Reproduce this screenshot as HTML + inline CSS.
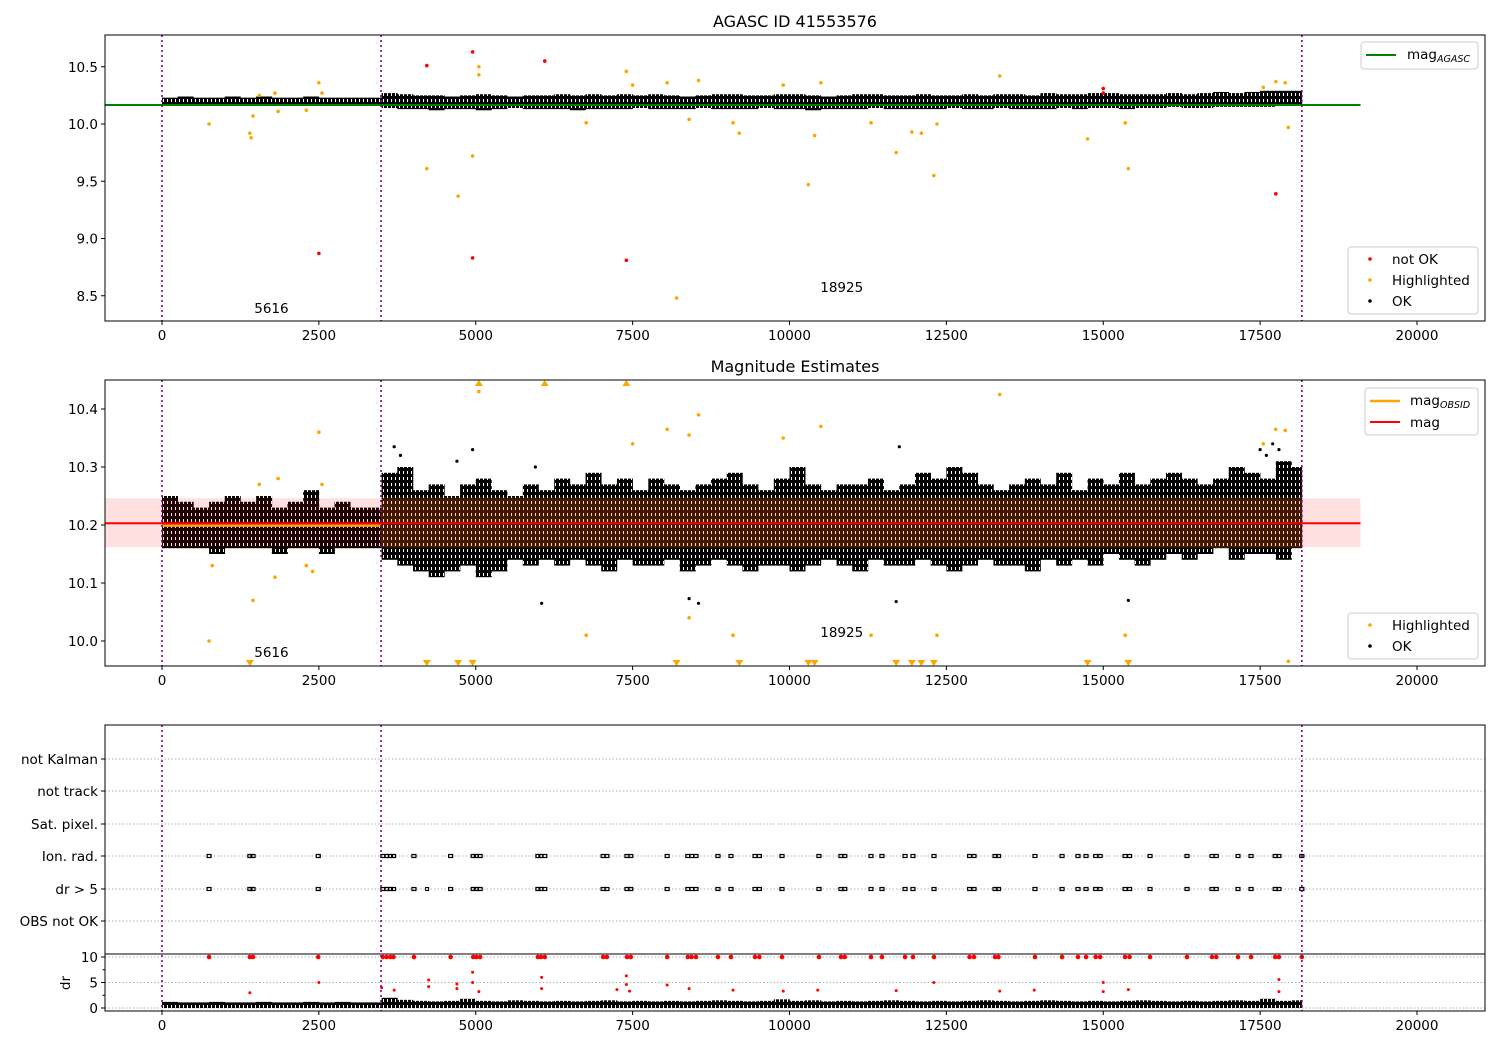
<!DOCTYPE html>
<html><head><meta charset="utf-8">
<style>
html,body{margin:0;padding:0;background:#fff;}
svg{display:block;font-family:"DejaVu Sans","Liberation Sans",sans-serif;}
</style></head>
<body>
<svg id="chart" width="1500" height="1050" viewBox="0 0 1500 1050" xmlns="http://www.w3.org/2000/svg">
<defs>
<pattern id="stripes" patternUnits="userSpaceOnUse" width="4" height="6">
<rect x="0" y="0" width="3" height="6" fill="#000"/>
<rect x="3" y="0" width="1" height="3" fill="#000"/>
</pattern>
</defs>
</svg>
<script>
// ---------- data ----------
const binWidth = 250;
const xTicks = [0, 2500, 5000, 7500, 10000, 12500, 15000, 17500, 20000];
const obsLines = [0, 3490, 18165];
const obsLabels = ["5616", "18925"];
const obsLabelT = [1470, 10490];

// panel 1 (AGASC) dense band per time bin
const hi1 = [10.23,10.24,10.23,10.23,10.24,10.23,10.24,10.23,10.23,10.24,10.23,10.23,10.23,10.23,
 10.27,10.26,10.25,10.25,10.24,10.25,10.26,10.25,10.24,10.25,10.25,10.26,10.25,10.26,10.25,10.26,10.25,10.26,10.25,10.24,10.25,10.26,10.26,10.25,10.25,10.26,10.26,10.25,10.24,10.25,10.26,10.26,10.25,10.25,10.26,10.25,10.25,10.26,10.25,10.26,10.26,10.25,10.27,10.26,10.26,10.27,10.27,10.26,10.26,10.26,10.27,10.26,10.27,10.28,10.27,10.28,10.29,10.29,10.29];
const lo1 = [10.16,10.16,10.16,10.16,10.16,10.16,10.16,10.16,10.16,10.16,10.16,10.16,10.16,10.16,
 10.14,10.13,10.13,10.12,10.13,10.13,10.12,10.13,10.14,10.13,10.13,10.13,10.12,10.13,10.13,10.13,10.14,10.13,10.13,10.13,10.14,10.13,10.13,10.13,10.14,10.13,10.13,10.12,10.13,10.13,10.13,10.14,10.13,10.13,10.13,10.13,10.14,10.13,10.13,10.14,10.13,10.13,10.13,10.14,10.13,10.14,10.14,10.13,10.14,10.14,10.15,10.14,10.14,10.15,10.15,10.15,10.15,10.16,10.16];
const magAgasc = 10.166;
const hl1T = [750,1400,1420,1450,1550,1800,1850,2300,2500,2550,4220,4720,4950,5050,5050,6100,6760,7400,7500,8050,8200,8400,8550,9100,9200,9900,10300,10400,10500,11300,11700,11950,12100,12300,12350,13350,14750,15350,15400,17550,17750,17900,17950];
const hl1V = [10.0,9.92,9.88,10.07,10.25,10.27,10.11,10.12,10.36,10.27,9.61,9.37,9.72,10.50,10.43,10.55,10.01,10.46,10.34,10.36,8.48,10.04,10.38,10.01,9.92,10.34,9.47,9.90,10.36,10.01,9.75,9.93,9.92,9.55,10.00,10.42,9.87,10.01,9.61,10.32,10.37,10.36,9.97];
const bad1T = [4220,4950,6100,2500,4950,7400,17750,15000,15000];
const bad1V = [10.51,10.63,10.55,8.87,8.83,8.81,9.39,10.31,10.27];

// panel 2 (magnitude estimates)
const hi2 = [10.25,10.24,10.23,10.24,10.25,10.24,10.25,10.23,10.24,10.26,10.23,10.24,10.23,10.23,
 10.29,10.30,10.26,10.27,10.25,10.27,10.28,10.26,10.25,10.27,10.26,10.28,10.27,10.29,10.27,10.28,10.26,10.28,10.27,10.26,10.27,10.28,10.29,10.27,10.26,10.28,10.30,10.27,10.26,10.27,10.27,10.28,10.26,10.27,10.29,10.28,10.30,10.29,10.27,10.26,10.27,10.28,10.27,10.29,10.26,10.28,10.27,10.29,10.27,10.28,10.29,10.28,10.27,10.28,10.30,10.29,10.28,10.31,10.30];
const lo2 = [10.16,10.16,10.16,10.15,10.16,10.16,10.16,10.15,10.16,10.16,10.15,10.16,10.16,10.16,
 10.14,10.13,10.12,10.11,10.12,10.13,10.11,10.12,10.14,10.13,10.14,10.13,10.14,10.13,10.12,10.14,10.13,10.13,10.14,10.12,10.13,10.14,10.13,10.12,10.13,10.13,10.12,10.13,10.14,10.13,10.12,10.14,10.13,10.13,10.14,10.13,10.12,10.13,10.14,10.13,10.13,10.12,10.14,10.13,10.14,10.13,10.15,10.14,10.13,10.14,10.15,10.14,10.15,10.16,10.14,10.15,10.15,10.14,10.16];
const okOutT = [3700,3800,4950,6050,8400,8550,11700,11750,15400,4700,5950,17500,17600,17700,17800];
const okOutV = [10.335,10.32,10.33,10.065,10.073,10.065,10.068,10.335,10.07,10.31,10.30,10.33,10.32,10.34,10.33];
const magMean = 10.203;
const magLo = 10.162, magHi = 10.246;
const hl2T = [750,800,1450,1550,1800,1850,2300,2400,2500,2550,5050,6760,7500,8050,8400,8400,8550,9100,9900,10500,11300,12350,13350,15350,17550,17750,17900,17950];
const hl2V = [10.0,10.13,10.07,10.27,10.11,10.28,10.13,10.12,10.36,10.27,10.43,10.01,10.34,10.365,10.04,10.355,10.39,10.01,10.35,10.37,10.01,10.01,10.425,10.01,10.34,10.365,10.363,9.965];
const downT = [1400,4220,4720,4950,8200,9200,10300,10400,11700,11950,12100,12300,14750,15400];
const upT = [5050,6100,7400];

// panel 3 flags
const flagCats = ["not Kalman","not track","Sat. pixel.","Ion. rad.","dr > 5","OBS not OK"];
const flagT = [750,1400,1450,2490,3520,3580,3640,3690,4015,4600,4960,5010,5070,5990,6040,6100,7030,7090,7410,7470,8050,8380,8440,8510,8860,9068,9450,9520,9880,10470,10820,10880,11299,11474,11841,11968,12303,12870,12940,13275,13330,13912,14343,14598,14725,14880,14950,15347,15420,15745,16335,16733,16800,17147,17355,17740,17800,18165];
const drHi = [1.2,1.1,1.1,1.2,1.1,1.1,1.2,1.1,1.1,1.2,1.1,1.2,1.1,1.1,
 2.0,1.6,1.4,1.3,1.4,1.8,1.4,1.3,1.5,1.4,1.3,1.4,1.3,1.4,1.5,1.3,1.4,1.3,1.4,1.3,1.4,1.5,1.4,1.3,1.4,1.7,1.4,1.5,1.3,1.4,1.3,1.4,1.5,1.4,1.3,1.4,1.3,1.4,1.5,1.4,1.3,1.4,1.5,1.4,1.3,1.4,1.3,1.4,1.5,1.4,1.3,1.4,1.3,1.4,1.5,1.4,1.8,1.4,1.5];
const drRedT = [1400,2500,3500,3700,4250,4250,4700,4700,4950,4950,5050,6050,6050,7250,7400,7400,7450,8050,8400,9100,9900,10450,11700,12300,13350,13900,15000,15000,15400,17800,17800];
const drRedV = [3,5,4,3.5,5.5,4.2,4.7,3.8,7,5,3.2,6,3.8,3.6,6.3,4.6,3.3,4.5,3.8,3.5,3.3,3.5,3.4,5,3.3,3.5,5,3.2,3.6,5.6,3.2];

// ---------- drawing ----------
const svg = document.getElementById('chart');
const NS = 'http://www.w3.org/2000/svg';
function mk(tag, attrs, parent){ const e=document.createElementNS(NS,tag); for(const k in attrs) e.setAttribute(k,attrs[k]); (parent||svg).appendChild(e); return e; }
const L=105, R=1485;
const X = t => 162 + t*0.06275;
const Y1 = v => 124 - (v-10)*114.5;
const Y2 = v => 641 - (v-10)*580;
const Ydr = v => 1008 - v*5.1;
const catY = [759,791,824,856,889,921];

function xAxis(bottom, g){
  xTicks.forEach(t=>{
    mk('line',{x1:X(t),x2:X(t),y1:bottom,y2:bottom+4,stroke:'#000'},g);
    const tx=mk('text',{x:X(t),y:bottom+19,'text-anchor':'middle','font-size':'13.5'},g); tx.textContent=t;
  });
}
function yTick(y,label,g){
  mk('line',{x1:L-4,x2:L,y1:y,y2:y,stroke:'#000'},g);
  if(label!==null){const t=mk('text',{x:L-7,y:y+5,'text-anchor':'end','font-size':'13.5'},g); t.textContent=label;}
}
function vlines(top,bot,g){
  obsLines.forEach(t=>mk('line',{x1:X(t),x2:X(t),y1:top,y2:bot,stroke:'#800080','stroke-width':1.6,'stroke-dasharray':'2,3'},g));
}
function band(hi,lo,Y,g,col){
  hi.forEach((h,i)=>{
    const t0=i*binWidth, t1=Math.min((i+1)*binWidth,18165);
    if(t1<=t0) return;
    const r=mk('rect',{x:X(t0),y:Y(h),width:X(t1)-X(t0)+0.3,height:Y(lo[i])-Y(h),fill:col},g);
    
    
  });
}
function dots(T,V,Y,col,r,g,name){
  T.forEach((t,i)=>{
    const c=mk('circle',{cx:X(t),cy:Y(V[i]),r:r,fill:col},g);
    
    
  });
}
function legendBox(x,y,w,h,g,name){
  mk('rect',{x:x,y:y,width:w,height:h,rx:3,fill:'#fff','fill-opacity':0.85,stroke:'#ccc'},g);
   
}
function label(x,y,txt,g,size){const t=mk('text',{x:x,y:y,'font-size':size||'13.5'},g); t.textContent=txt; return t;}
function subLabel(x,y,main,sub,g){
  const t=mk('text',{x:x,y:y,'font-size':'13.5'},g);
  const a=mk('tspan',{},t); a.textContent=main;
  const b=mk('tspan',{dy:3,'font-size':'9.5','font-style':'italic'},t); b.textContent=sub;
  return t;
}

// ===== Panel 1 =====
const g1=mk('g',{});
label(795,27,'AGASC ID 41553576',g1,'16').setAttribute('text-anchor','middle');
const clip1=mk('clipPath',{id:'c1'}); mk('rect',{x:L,y:35,width:R-L,height:286},clip1);
const p1=mk('g',{'clip-path':'url(#c1)'},g1);
band(hi1,lo1,Y1,p1,'url(#stripes)');
dots(hl1T,hl1V,Y1,'orange',1.8,p1,'highlighted-point');
dots(bad1T,bad1V,Y1,'red',1.8,p1,'not-ok-point');
mk('line',{x1:L,x2:X(19100),y1:Y1(magAgasc),y2:Y1(magAgasc),stroke:'green','stroke-width':2,},p1);
vlines(35,321,p1);
obsLabels.forEach((s,i)=>label(X(obsLabelT[i]),i?292:313,s,p1,'13.5'));
mk('rect',{x:L,y:35,width:R-L,height:286,fill:'none',stroke:'#000'},g1);
[10.5,10.0,9.5,9.0,8.5].forEach(v=>yTick(Y1(v),v.toFixed(1),g1));
xAxis(321,g1);
const lg1=mk('g',{},g1); legendBox(1361,42,117,27,lg1,'legend-mag-agasc');
mk('line',{x1:1366,x2:1396,y1:55,y2:55,stroke:'green','stroke-width':2},lg1);
subLabel(1407,59,'mag','AGASC',lg1);
const lg2=mk('g',{},g1); legendBox(1348,247,130,67,lg2,'legend-points');
[['red','not OK',259],['orange','Highlighted',280],['#000','OK',301]].forEach(a=>{mk('circle',{cx:1370,cy:a[2],r:1.8,fill:a[0]},lg2); label(1392,a[2]+5,a[1],lg2);});

// ===== Panel 2 =====
const g2=mk('g',{});
label(795,372,'Magnitude Estimates',g2,'16').setAttribute('text-anchor','middle');
const clip2=mk('clipPath',{id:'c2'}); mk('rect',{x:L,y:380,width:R-L,height:286},clip2);
const p2=mk('g',{'clip-path':'url(#c2)'},g2);
band(hi2,lo2,Y2,p2,'url(#stripes)');
dots(okOutT,okOutV,Y2,'#000',1.6,p2,'ok-outlier');
mk('rect',{x:L,y:Y2(magHi),width:X(19100)-L,height:Y2(magLo)-Y2(magHi),fill:'red','fill-opacity':0.12,},p2);
mk('rect',{x:X(3490),y:Y2(magHi+0.002),width:X(18165)-X(3490),height:Y2(magLo-0.002)-Y2(magHi+0.002),fill:'orange','fill-opacity':0.15,},p2);
mk('line',{x1:X(0),x2:X(3490),y1:Y2(10.199),y2:Y2(10.199),stroke:'orange','stroke-width':2.5,},p2);
mk('line',{x1:L,x2:X(19100),y1:Y2(magMean),y2:Y2(magMean),stroke:'red','stroke-width':2,},p2);
dots(hl2T,hl2V,Y2,'orange',1.8,p2,'highlighted-point');
downT.forEach(t=>{const p=mk('path',{d:`M${X(t)-4},660 L${X(t)+4},660 L${X(t)},666 Z`,fill:'orange'},p2);  });
upT.forEach(t=>{const p=mk('path',{d:`M${X(t)-4},386 L${X(t)+4},386 L${X(t)},380 Z`,fill:'orange'},p2);  });
vlines(380,666,p2);
obsLabels.forEach((s,i)=>label(X(obsLabelT[i]),i?637:657,s,p2,'13.5'));
mk('rect',{x:L,y:380,width:R-L,height:286,fill:'none',stroke:'#000'},g2);
[10.4,10.3,10.2,10.1,10.0].forEach(v=>yTick(Y2(v),v.toFixed(1),g2));
xAxis(666,g2);
const lg3=mk('g',{},g2); legendBox(1365,388,113,47,lg3,'legend-mag-lines');
mk('line',{x1:1370,x2:1400,y1:401,y2:401,stroke:'orange','stroke-width':2.5},lg3);
subLabel(1410,405,'mag','OBSID',lg3);
mk('line',{x1:1370,x2:1400,y1:422,y2:422,stroke:'red','stroke-width':2},lg3);
label(1410,427,'mag',lg3);
const lg4=mk('g',{},g2); legendBox(1348,613,130,46,lg4,'legend-points-2');
[['orange','Highlighted',625],['#000','OK',646]].forEach(a=>{mk('circle',{cx:1370,cy:a[2],r:1.8,fill:a[0]},lg4); label(1392,a[2]+5,a[1],lg4);});

// ===== Panel 3 =====
const g3=mk('g',{});
catY.forEach((y,i)=>{
  mk('line',{x1:L,x2:R,y1:y,y2:y,stroke:'#b0b0b0','stroke-dasharray':'1.5,2'},g3);
  yTick(y,flagCats[i],g3);
});
[3,4].forEach(ci=>flagT.forEach(t=>{
  const r=mk('rect',{x:X(t)-2,y:catY[ci]-1.5,width:4,height:3,fill:'none',stroke:'#000','stroke-width':1.2},g3);
   
}));
mk('rect',{x:X(4225)-1.5,y:catY[4]-1.5,width:3,height:3,fill:'none',stroke:'#000'},g3);
// dr sub-panel
[0,5,10].forEach(v=>mk('line',{x1:L,x2:R,y1:Ydr(v),y2:Ydr(v),stroke:'#b0b0b0','stroke-dasharray':'1.5,2'},g3));
band(drHi,drHi.map(()=>0.0),Ydr,g3,'url(#stripes)');
flagT.forEach(t=>{const c=mk('circle',{cx:X(t),cy:Ydr(10),r:2.3,fill:'red'},g3);  });
dots(drRedT,drRedV,Ydr,'red',1.5,g3,'dr-high-point');
vlines(725,1011,g3);
mk('rect',{x:L,y:725,width:R-L,height:286,fill:'none',stroke:'#000'},g3);
mk('line',{x1:L,x2:R,y1:954,y2:954,stroke:'#000'},g3);
[0,5,10].forEach(v=>yTick(Ydr(v),String(v),g3));
[2.5,7.5].forEach(v=>mk('line',{x1:L-2.5,x2:L,y1:Ydr(v),y2:Ydr(v),stroke:'#000'},g3));
const dl=label(0,0,'dr',g3); dl.setAttribute('transform','translate(70,983) rotate(-90)'); dl.setAttribute('text-anchor','middle');
xAxis(1011,g3);
</script>
</body></html>
